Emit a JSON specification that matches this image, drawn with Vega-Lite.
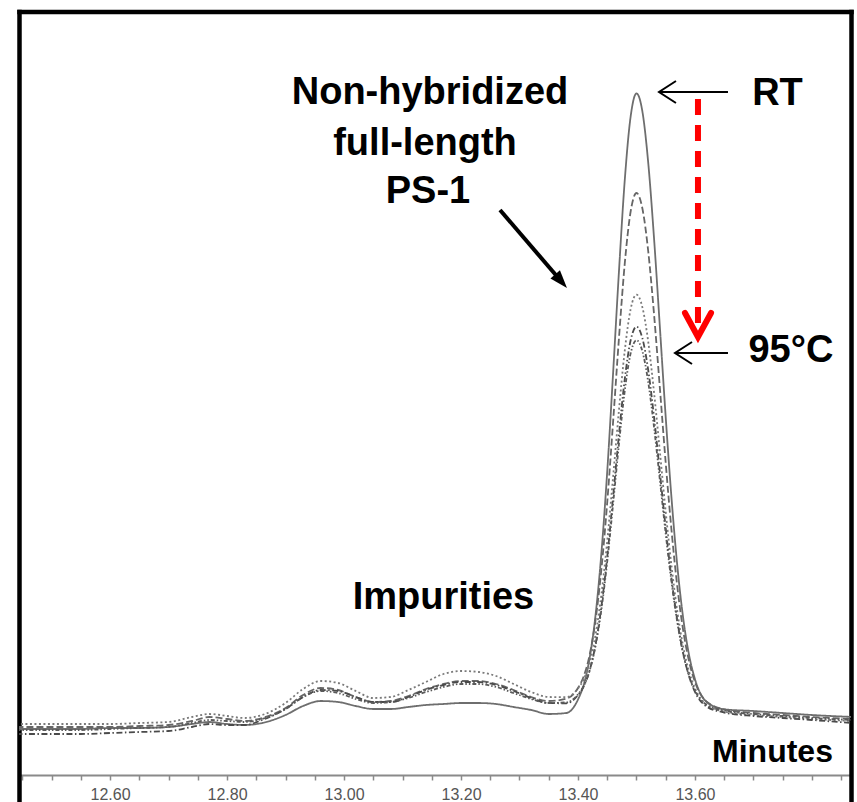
{
  "$schema": "https://vega.github.io/schema/vega-lite/v6.json",
  "autosize": "none",
  "width": 832,
  "height": 790.5,
  "padding": {"left": 19, "top": 11.5, "right": 6, "bottom": 0},
  "background": "white",
  "config": {"view": {"stroke": null}},
  "datasets": {
    "traces": [
      {"series":"RT","t":12.44,"signal":46},{"series":"RT","t":12.50,"signal":46},{"series":"RT","t":12.55,"signal":46},{"series":"RT","t":12.60,"signal":47},{"series":"RT","t":12.65,"signal":47},{"series":"RT","t":12.70,"signal":48},{"series":"RT","t":12.74,"signal":51},{"series":"RT","t":12.77,"signal":53},{"series":"RT","t":12.80,"signal":51},{"series":"RT","t":12.83,"signal":50},{"series":"RT","t":12.86,"signal":52},{"series":"RT","t":12.90,"signal":60},{"series":"RT","t":12.93,"signal":69},{"series":"RT","t":12.96,"signal":74},{"series":"RT","t":12.99,"signal":73},{"series":"RT","t":13.02,"signal":69},{"series":"RT","t":13.05,"signal":66},{"series":"RT","t":13.08,"signal":66},{"series":"RT","t":13.11,"signal":68},{"series":"RT","t":13.14,"signal":70},{"series":"RT","t":13.17,"signal":71},{"series":"RT","t":13.20,"signal":72},{"series":"RT","t":13.23,"signal":72},{"series":"RT","t":13.26,"signal":71},{"series":"RT","t":13.29,"signal":68},{"series":"RT","t":13.32,"signal":65},{"series":"RT","t":13.35,"signal":61},{"series":"RT","t":13.38,"signal":62},
      {"series":"RT","t":13.40,"signal":75.5},{"series":"RT","t":13.41,"signal":90.8},{"series":"RT","t":13.42,"signal":117.3},{"series":"RT","t":13.43,"signal":159.9},{"series":"RT","t":13.44,"signal":221.9},{"series":"RT","t":13.45,"signal":303.8},{"series":"RT","t":13.46,"signal":401.8},{"series":"RT","t":13.47,"signal":503.4},{"series":"RT","t":13.48,"signal":595.3},{"series":"RT","t":13.49,"signal":658.5},{"series":"RT","t":13.50,"signal":681.6},{"series":"RT","t":13.51,"signal":663.8},{"series":"RT","t":13.52,"signal":612.6},{"series":"RT","t":13.53,"signal":536.6},{"series":"RT","t":13.54,"signal":447.6},{"series":"RT","t":13.55,"signal":357.4},{"series":"RT","t":13.56,"signal":275.9},{"series":"RT","t":13.57,"signal":207.9},{"series":"RT","t":13.58,"signal":156.1},{"series":"RT","t":13.59,"signal":119.6},{"series":"RT","t":13.60,"signal":95.8},{"series":"RT","t":13.62,"signal":73.0},{"series":"RT","t":13.65,"signal":65.7},{"series":"RT","t":13.70,"signal":64},{"series":"RT","t":13.75,"signal":62},{"series":"RT","t":13.80,"signal":60},{"series":"RT","t":13.87,"signal":58},

      {"series":"Step 2","t":12.44,"signal":48},{"series":"Step 2","t":12.50,"signal":48},{"series":"Step 2","t":12.55,"signal":48},{"series":"Step 2","t":12.60,"signal":48},{"series":"Step 2","t":12.65,"signal":49},{"series":"Step 2","t":12.70,"signal":50},{"series":"Step 2","t":12.74,"signal":54},{"series":"Step 2","t":12.77,"signal":58},{"series":"Step 2","t":12.80,"signal":56},{"series":"Step 2","t":12.83,"signal":54},{"series":"Step 2","t":12.86,"signal":57},{"series":"Step 2","t":12.90,"signal":67},{"series":"Step 2","t":12.93,"signal":80},{"series":"Step 2","t":12.96,"signal":87},{"series":"Step 2","t":12.99,"signal":85},{"series":"Step 2","t":13.02,"signal":78},{"series":"Step 2","t":13.05,"signal":73},{"series":"Step 2","t":13.08,"signal":74},{"series":"Step 2","t":13.11,"signal":79},{"series":"Step 2","t":13.14,"signal":86},{"series":"Step 2","t":13.17,"signal":91},{"series":"Step 2","t":13.20,"signal":94},{"series":"Step 2","t":13.23,"signal":94},{"series":"Step 2","t":13.26,"signal":91},{"series":"Step 2","t":13.29,"signal":85},{"series":"Step 2","t":13.32,"signal":78},{"series":"Step 2","t":13.35,"signal":74},{"series":"Step 2","t":13.38,"signal":76.3},
      {"series":"Step 2","t":13.40,"signal":87.0},{"series":"Step 2","t":13.41,"signal":99.0},{"series":"Step 2","t":13.42,"signal":120.4},{"series":"Step 2","t":13.43,"signal":155.0},{"series":"Step 2","t":13.44,"signal":205.7},{"series":"Step 2","t":13.45,"signal":272.8},{"series":"Step 2","t":13.46,"signal":353.1},{"series":"Step 2","t":13.47,"signal":436.5},{"series":"Step 2","t":13.48,"signal":511.8},{"series":"Step 2","t":13.49,"signal":563.5},{"series":"Step 2","t":13.50,"signal":582.0},{"series":"Step 2","t":13.51,"signal":566.8},{"series":"Step 2","t":13.52,"signal":524.0},{"series":"Step 2","t":13.53,"signal":460.7},{"series":"Step 2","t":13.54,"signal":386.7},{"series":"Step 2","t":13.55,"signal":311.7},{"series":"Step 2","t":13.56,"signal":243.9},{"series":"Step 2","t":13.57,"signal":187.3},{"series":"Step 2","t":13.58,"signal":143.9},{"series":"Step 2","t":13.59,"signal":113.3},{"series":"Step 2","t":13.60,"signal":93.1},{"series":"Step 2","t":13.62,"signal":73.3},{"series":"Step 2","t":13.65,"signal":65.6},{"series":"Step 2","t":13.70,"signal":62},{"series":"Step 2","t":13.75,"signal":60},{"series":"Step 2","t":13.80,"signal":58},{"series":"Step 2","t":13.87,"signal":56},

      {"series":"Step 3","t":12.44,"signal":51},{"series":"Step 3","t":12.50,"signal":51},{"series":"Step 3","t":12.55,"signal":51},{"series":"Step 3","t":12.60,"signal":51},{"series":"Step 3","t":12.65,"signal":52},{"series":"Step 3","t":12.70,"signal":53},{"series":"Step 3","t":12.74,"signal":58},{"series":"Step 3","t":12.77,"signal":61},{"series":"Step 3","t":12.80,"signal":59},{"series":"Step 3","t":12.83,"signal":57},{"series":"Step 3","t":12.86,"signal":60},{"series":"Step 3","t":12.90,"signal":72},{"series":"Step 3","t":12.93,"signal":86},{"series":"Step 3","t":12.96,"signal":94},{"series":"Step 3","t":12.99,"signal":92},{"series":"Step 3","t":13.02,"signal":84},{"series":"Step 3","t":13.05,"signal":77},{"series":"Step 3","t":13.08,"signal":78},{"series":"Step 3","t":13.11,"signal":85},{"series":"Step 3","t":13.14,"signal":93},{"series":"Step 3","t":13.17,"signal":101},{"series":"Step 3","t":13.20,"signal":104},{"series":"Step 3","t":13.23,"signal":103},{"series":"Step 3","t":13.26,"signal":99},{"series":"Step 3","t":13.29,"signal":91},{"series":"Step 3","t":13.32,"signal":83},{"series":"Step 3","t":13.35,"signal":78},{"series":"Step 3","t":13.38,"signal":77.8},
      {"series":"Step 3","t":13.40,"signal":86.6},{"series":"Step 3","t":13.41,"signal":96.0},{"series":"Step 3","t":13.42,"signal":112.9},{"series":"Step 3","t":13.43,"signal":140.3},{"series":"Step 3","t":13.44,"signal":180.7},{"series":"Step 3","t":13.45,"signal":234.1},{"series":"Step 3","t":13.46,"signal":298.1},{"series":"Step 3","t":13.47,"signal":364.7},{"series":"Step 3","t":13.48,"signal":424.6},{"series":"Step 3","t":13.49,"signal":465.9},{"series":"Step 3","t":13.50,"signal":480.4},{"series":"Step 3","t":13.51,"signal":467.9},{"series":"Step 3","t":13.52,"signal":433.5},{"series":"Step 3","t":13.53,"signal":382.6},{"series":"Step 3","t":13.54,"signal":323.2},{"series":"Step 3","t":13.55,"signal":262.9},{"series":"Step 3","t":13.56,"signal":208.3},{"series":"Step 3","t":13.57,"signal":162.8},{"series":"Step 3","t":13.58,"signal":127.8},{"series":"Step 3","t":13.59,"signal":103.2},{"series":"Step 3","t":13.60,"signal":86.7},{"series":"Step 3","t":13.62,"signal":70.3},{"series":"Step 3","t":13.65,"signal":63.5},{"series":"Step 3","t":13.70,"signal":60},{"series":"Step 3","t":13.75,"signal":58},{"series":"Step 3","t":13.80,"signal":56},{"series":"Step 3","t":13.87,"signal":54},

      {"series":"Step 4","t":12.44,"signal":41},{"series":"Step 4","t":12.50,"signal":41},{"series":"Step 4","t":12.55,"signal":41},{"series":"Step 4","t":12.60,"signal":42},{"series":"Step 4","t":12.65,"signal":43},{"series":"Step 4","t":12.70,"signal":44},{"series":"Step 4","t":12.74,"signal":48},{"series":"Step 4","t":12.77,"signal":51},{"series":"Step 4","t":12.80,"signal":50},{"series":"Step 4","t":12.83,"signal":50},{"series":"Step 4","t":12.86,"signal":55},{"series":"Step 4","t":12.90,"signal":66},{"series":"Step 4","t":12.93,"signal":78},{"series":"Step 4","t":12.96,"signal":85},{"series":"Step 4","t":12.99,"signal":84},{"series":"Step 4","t":13.02,"signal":78},{"series":"Step 4","t":13.05,"signal":73},{"series":"Step 4","t":13.08,"signal":73},{"series":"Step 4","t":13.11,"signal":78},{"series":"Step 4","t":13.14,"signal":85},{"series":"Step 4","t":13.17,"signal":90},{"series":"Step 4","t":13.20,"signal":93},{"series":"Step 4","t":13.23,"signal":93},{"series":"Step 4","t":13.26,"signal":90},{"series":"Step 4","t":13.29,"signal":84},{"series":"Step 4","t":13.32,"signal":77},{"series":"Step 4","t":13.35,"signal":72},{"series":"Step 4","t":13.38,"signal":71.7},
      {"series":"Step 4","t":13.40,"signal":79.9},{"series":"Step 4","t":13.41,"signal":88.8},{"series":"Step 4","t":13.42,"signal":104.8},{"series":"Step 4","t":13.43,"signal":130.5},{"series":"Step 4","t":13.44,"signal":168.3},{"series":"Step 4","t":13.45,"signal":218.2},{"series":"Step 4","t":13.46,"signal":278.0},{"series":"Step 4","t":13.47,"signal":340.2},{"series":"Step 4","t":13.48,"signal":396.1},{"series":"Step 4","t":13.49,"signal":434.7},{"series":"Step 4","t":13.50,"signal":448.4},{"series":"Step 4","t":13.51,"signal":436.9},{"series":"Step 4","t":13.52,"signal":405.0},{"series":"Step 4","t":13.53,"signal":357.8},{"series":"Step 4","t":13.54,"signal":302.6},{"series":"Step 4","t":13.55,"signal":246.6},{"series":"Step 4","t":13.56,"signal":195.9},{"series":"Step 4","t":13.57,"signal":153.7},{"series":"Step 4","t":13.58,"signal":121.3},{"series":"Step 4","t":13.59,"signal":98.5},{"series":"Step 4","t":13.60,"signal":83.2},{"series":"Step 4","t":13.62,"signal":68.4},{"series":"Step 4","t":13.65,"signal":62.5},{"series":"Step 4","t":13.70,"signal":59},{"series":"Step 4","t":13.75,"signal":57},{"series":"Step 4","t":13.80,"signal":55},{"series":"Step 4","t":13.87,"signal":52},

      {"series":"95°C","t":12.44,"signal":45},{"series":"95°C","t":12.50,"signal":45},{"series":"95°C","t":12.55,"signal":45},{"series":"95°C","t":12.60,"signal":46},{"series":"95°C","t":12.65,"signal":47},{"series":"95°C","t":12.70,"signal":48},{"series":"95°C","t":12.74,"signal":52},{"series":"95°C","t":12.77,"signal":55},{"series":"95°C","t":12.80,"signal":54},{"series":"95°C","t":12.83,"signal":53},{"series":"95°C","t":12.86,"signal":56},{"series":"95°C","t":12.90,"signal":66},{"series":"95°C","t":12.93,"signal":78},{"series":"95°C","t":12.96,"signal":84},{"series":"95°C","t":12.99,"signal":82},{"series":"95°C","t":13.02,"signal":76},{"series":"95°C","t":13.05,"signal":72},{"series":"95°C","t":13.08,"signal":73},{"series":"95°C","t":13.11,"signal":77},{"series":"95°C","t":13.14,"signal":83},{"series":"95°C","t":13.17,"signal":88},{"series":"95°C","t":13.20,"signal":91},{"series":"95°C","t":13.23,"signal":91},{"series":"95°C","t":13.26,"signal":88},{"series":"95°C","t":13.29,"signal":82},{"series":"95°C","t":13.32,"signal":76},{"series":"95°C","t":13.35,"signal":72},{"series":"95°C","t":13.38,"signal":72.6},
      {"series":"95°C","t":13.40,"signal":80.6},{"series":"95°C","t":13.41,"signal":89.2},{"series":"95°C","t":13.42,"signal":104.5},{"series":"95°C","t":13.43,"signal":129.2},{"series":"95°C","t":13.44,"signal":165.5},{"series":"95°C","t":13.45,"signal":213.5},{"series":"95°C","t":13.46,"signal":271.0},{"series":"95°C","t":13.47,"signal":330.8},{"series":"95°C","t":13.48,"signal":384.5},{"series":"95°C","t":13.49,"signal":421.6},{"series":"95°C","t":13.50,"signal":434.8},{"series":"95°C","t":13.51,"signal":423.9},{"series":"95°C","t":13.52,"signal":393.2},{"series":"95°C","t":13.53,"signal":347.8},{"series":"95°C","t":13.54,"signal":294.8},{"series":"95°C","t":13.55,"signal":241.1},{"series":"95°C","t":13.56,"signal":192.4},{"series":"95°C","t":13.57,"signal":151.9},{"series":"95°C","t":13.58,"signal":120.7},{"series":"95°C","t":13.59,"signal":98.8},{"series":"95°C","t":13.60,"signal":84.3},{"series":"95°C","t":13.62,"signal":70.1},{"series":"95°C","t":13.65,"signal":64.4},{"series":"95°C","t":13.70,"signal":61},{"series":"95°C","t":13.75,"signal":59},{"series":"95°C","t":13.80,"signal":57},{"series":"95°C","t":13.87,"signal":55}
    ],
    "labels": [
      {"text":"Non-hybridized","t":13.147,"signal":671},
      {"text":"full-length","t":13.1385,"signal":620},
      {"text":"PS-1","t":13.1436,"signal":572},
      {"text":"Impurities","t":13.170,"signal":166},
      {"text":"RT","t":13.741,"signal":670},
      {"text":"95°C","t":13.764,"signal":413}
    ],
    "axisTitle": [
      {"text":"Minutes","t":13.7325,"signal":13}
    ],
    "pointers": [
      {"id":"rt","k":0,"t":13.6564,"signal":683},{"id":"rt","k":1,"t":13.5385,"signal":683},
      {"id":"rtHead","k":0,"t":13.5675,"signal":694},{"id":"rtHead","k":1,"t":13.5385,"signal":683},{"id":"rtHead","k":2,"t":13.5675,"signal":672},
      {"id":"hot","k":0,"t":13.6564,"signal":422},{"id":"hot","k":1,"t":13.5658,"signal":422},
      {"id":"hotHead","k":0,"t":13.5949,"signal":433},{"id":"hotHead","k":1,"t":13.5658,"signal":422},{"id":"hotHead","k":2,"t":13.5949,"signal":411}
    ],
    "callout": [
      {"k":0,"t":13.2667,"signal":565},{"k":1,"t":13.3709,"signal":494}
    ],
    "calloutTip": [
      {"t":13.3711,"signal":493.8}
    ],
    "cooling": [
      {"k":0,"t":13.6051,"signal":676},{"k":1,"t":13.6051,"signal":443}
    ],
    "coolingHead": [
      {"k":0,"t":13.5829,"signal":462},{"k":1,"t":13.6051,"signal":438},{"k":2,"t":13.6274,"signal":462}
    ]
  },
  "resolve": {"axis": {"x": "independent", "y": "independent"}},
  "layer": [
    {
      "data": {"name": "traces"},
      "mark": {"type": "line", "clip": true, "strokeWidth": 1.8, "interpolate": "monotone"},
      "encoding": {
        "x": {
          "field": "t", "type": "quantitative",
          "scale": {"domain": [12.4444, 13.8667], "nice": false, "zero": false},
          "axis": {
            "orient": "bottom", "offset": -27, "title": null, "grid": false,
            "values": [12.45,12.5,12.55,12.6,12.65,12.7,12.75,12.8,12.85,12.9,12.95,13,13.05,13.1,13.15,13.2,13.25,13.3,13.35,13.4,13.45,13.5,13.55,13.6,13.65,13.7,13.75,13.8,13.85],
            "labelExpr": "indexof(['12.60','12.80','13.00','13.20','13.40','13.60'], format(datum.value, '.2f')) >= 0 ? format(datum.value, '.2f') : ''",
            "domainColor": "#8a8a8a", "domainWidth": 2,
            "tickColor": "#8a8a8a", "tickWidth": 1.5, "tickSize": 5,
            "labelColor": "#555555", "labelFont": "Liberation Sans Narrow, Liberation Sans", "labelFontSize": 16,
            "labelPadding": 6, "labelOverlap": false, "labelFlush": false, "labelBound": false
          }
        },
        "y": {
          "field": "signal", "type": "quantitative",
          "scale": {"domain": [-27, 763.5], "nice": false, "zero": false},
          "axis": {"orient": "left", "title": null, "grid": false, "ticks": false, "labels": false, "domainColor": "#000000", "domainWidth": 4.5, "domainCap": "square"}
        },
        "color": {
          "field": "series", "type": "nominal", "legend": null,
          "scale": {"domain": ["RT","Step 2","Step 3","Step 4","95°C"], "range": ["#6e6e6e","#666666","#7a7a7a","#4a4a4a","#5a5a5a"]}
        },
        "strokeDash": {
          "field": "series", "type": "nominal", "legend": null,
          "scale": {"domain": ["RT","Step 2","Step 3","Step 4","95°C"], "range": [[1,0],[7,3],[2,2.5],[6,2.5,1.5,2.5],[4,2,1.5,2,1.5,2]]}
        }
      }
    },
    {
      "data": {"name": "labels"},
      "mark": {"type": "text", "font": "Liberation Sans", "fontWeight": "bold", "fontSize": 38, "align": "center", "baseline": "alphabetic", "color": "#000000"},
      "encoding": {
        "x": {"field": "t", "type": "quantitative",
          "axis": {"orient": "top", "title": null, "grid": false, "ticks": false, "labels": false, "domainColor": "#000000", "domainWidth": 4.5, "domainCap": "square"}},
        "y": {"field": "signal", "type": "quantitative",
          "axis": {"orient": "right", "title": null, "grid": false, "ticks": false, "labels": false, "domainColor": "#000000", "domainWidth": 4.5, "domainCap": "square"}},
        "text": {"field": "text"}
      }
    },
    {
      "data": {"name": "axisTitle"},
      "mark": {"type": "text", "font": "Liberation Sans", "fontWeight": "bold", "fontSize": 32, "align": "center", "baseline": "alphabetic", "color": "#000000"},
      "encoding": {
        "x": {"field": "t", "type": "quantitative", "axis": null},
        "y": {"field": "signal", "type": "quantitative", "axis": null},
        "text": {"field": "text"}
      }
    },
    {
      "data": {"name": "pointers"},
      "mark": {"type": "line", "color": "#000000", "strokeWidth": 2, "strokeJoin": "miter"},
      "encoding": {
        "x": {"field": "t", "type": "quantitative", "axis": null},
        "y": {"field": "signal", "type": "quantitative", "axis": null},
        "detail": {"field": "id"},
        "order": {"field": "k"}
      }
    },
    {
      "data": {"name": "callout"},
      "mark": {"type": "line", "color": "#000000", "strokeWidth": 4},
      "encoding": {
        "x": {"field": "t", "type": "quantitative", "axis": null},
        "y": {"field": "signal", "type": "quantitative", "axis": null},
        "order": {"field": "k"}
      }
    },
    {
      "data": {"name": "calloutTip"},
      "mark": {"type": "point", "shape": "M0,-1L0.7,1L-0.7,1Z", "filled": true, "color": "#000000", "opacity": 1, "size": 324, "angle": 139},
      "encoding": {
        "x": {"field": "t", "type": "quantitative", "axis": null},
        "y": {"field": "signal", "type": "quantitative", "axis": null}
      }
    },
    {
      "data": {"name": "cooling"},
      "mark": {"type": "line", "color": "#ff0000", "strokeWidth": 6, "strokeDash": [16, 10]},
      "encoding": {
        "x": {"field": "t", "type": "quantitative", "axis": null},
        "y": {"field": "signal", "type": "quantitative", "axis": null},
        "order": {"field": "k"}
      }
    },
    {
      "data": {"name": "coolingHead"},
      "mark": {"type": "line", "color": "#ff0000", "strokeWidth": 6, "strokeCap": "round", "strokeJoin": "miter"},
      "encoding": {
        "x": {"field": "t", "type": "quantitative", "axis": null},
        "y": {"field": "signal", "type": "quantitative", "axis": null},
        "order": {"field": "k"}
      }
    }
  ]
}
